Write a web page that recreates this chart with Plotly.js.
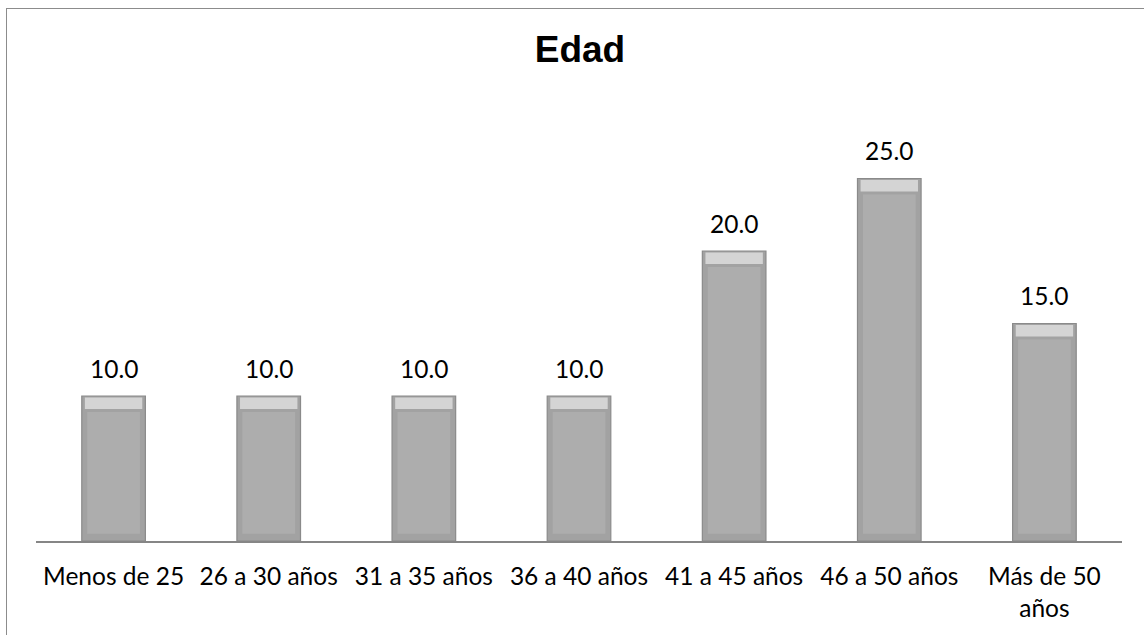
<!DOCTYPE html>
<html>
<head>
<meta charset="utf-8">
<script src="https://cdn.plot.ly/plotly-3.0.1.min.js"></script>
<style>
html,body{margin:0;padding:0;background:#fff;overflow:hidden;}
#frame{position:absolute;left:6px;top:8px;width:1200px;height:700px;border-left:1.5px solid #8c8c8c;border-top:1.5px solid #8c8c8c;pointer-events:none;z-index:5;}
#chart{position:absolute;left:0;top:0;width:1144px;height:635px;}
</style>
</head>
<body>
<div id="chart"></div>
<div id="frame"></div>
<script>
const categories = ["Menos de 25","26 a 30 años","31 a 35 años","36 a 40 años","41 a 45 años","46 a 50 años","Más de 50 años"];
const tickLabels = ["Menos de 25","26 a 30 años","31 a 35 años","36 a 40 años","41 a 45 años","46 a 50 años","Más de 50<br>años"];
const values = [10.0,10.0,10.0,10.0,20.0,25.0,15.0];

const labelFont = {family: "Lato, 'Open Sans', sans-serif", size: 24.5, color: "#000"};

const mainBars = {
  type: "bar", x: categories, y: values, width: 0.41,
  marker: {color: "#a2a2a2", line: {color: "#8a8a8a", width: 1.2}},
  hoverinfo: "skip", showlegend: false
};
const innerFace = {
  type: "bar", x: categories, y: values.map(v => v - 1.6), base: values.map(() => 0.5), width: 0.34,
  marker: {color: "#adadad", line: {width: 0}},
  hoverinfo: "skip", showlegend: false
};
const topBevel = {
  type: "bar", x: categories, y: values.map(() => 0.8), base: values.map(v => v - 0.9), width: 0.37,
  marker: {color: "#d4d4d4", line: {width: 0}},
  hoverinfo: "skip", showlegend: false
};

const annotations = categories.map((c, i) => ({
  x: c, y: values[i], xref: "x", yref: "y",
  text: values[i].toFixed(1), showarrow: false,
  yanchor: "middle", yshift: 28, font: labelFont
}));

const layout = {
  width: 1144, height: 635,
  margin: {l: 36, r: 22, t: 106, b: 94},
  paper_bgcolor: "#fff", plot_bgcolor: "#fff",
  barmode: "overlay",
  title: {text: "<b>Edad</b>", font: {family: "'Liberation Sans', Arial, sans-serif", size: 37, color: "#000"}, x: 0.507, xanchor: "center", y: 0.923, yanchor: "middle"},
  xaxis: {
    type: "category", tickvals: categories, ticktext: tickLabels,
    range: [-0.5, 6.5], showgrid: false, zeroline: false,
    showline: true, linecolor: "#868686", linewidth: 1.5,
    ticks: "", tickfont: labelFont, ticklabelstandoff: 13
  },
  yaxis: {range: [0, 30], visible: false, showgrid: false, zeroline: false},
  annotations: annotations
};

Plotly.newPlot("chart", [mainBars, innerFace, topBevel], layout, {displayModeBar: false, staticPlot: true});
</script>
</body>
</html>
